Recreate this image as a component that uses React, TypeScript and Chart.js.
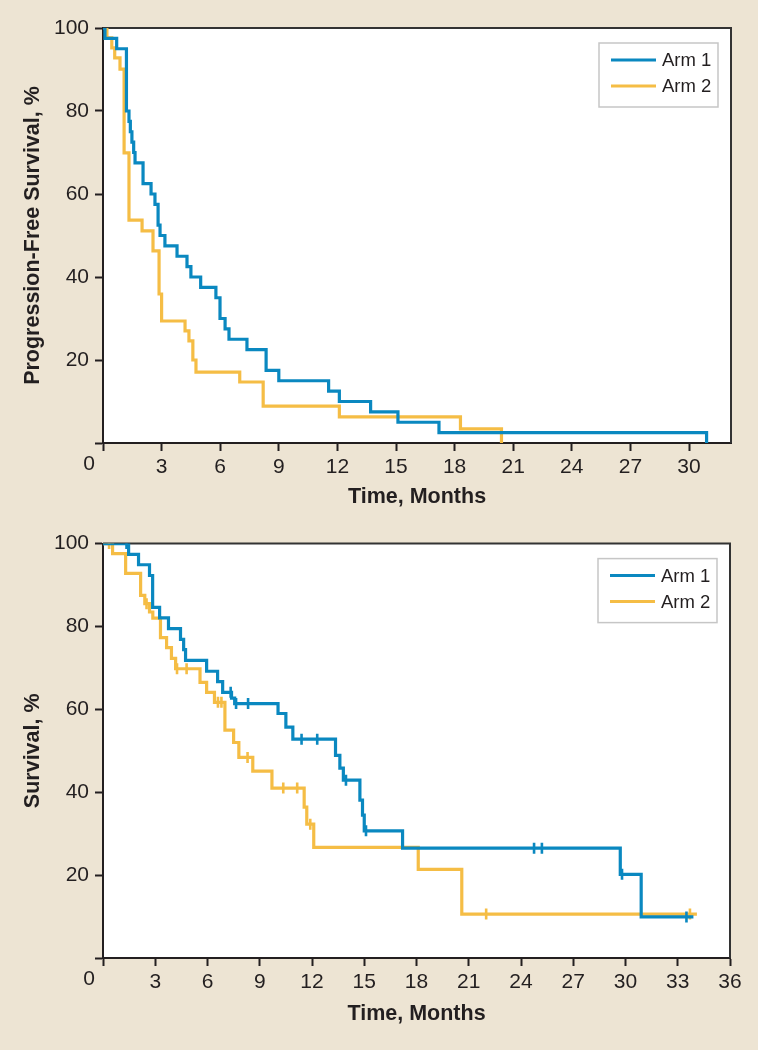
import React, { useEffect, useRef } from 'react';
import { Chart, registerables } from 'chart.js';

Chart.register(...registerables);

// ---------- data ----------
const seriesLabels = ['Arm 1', 'Arm 2'];

// Progression-free survival (top panel)
const pfsArm1Months = [0, 0.1, 0.7, 1.2, 1.33, 1.4, 1.48, 1.57, 1.64, 2.05, 2.46, 2.66, 2.82, 2.92, 3.17, 3.79, 4.3, 4.5, 5.0, 5.78, 5.99, 6.25, 6.45, 7.37, 8.35, 9.0, 11.55, 12.1, 13.7, 15.1, 17.2, 30.9];
const pfsArm1Pct = [100, 97.5, 95, 80, 77.5, 75, 72.5, 70, 67.5, 62.5, 60, 57.5, 52.5, 50, 47.5, 45, 42.5, 40, 37.5, 35, 30, 27.5, 25, 22.5, 17.5, 15, 12.5, 10, 7.5, 5, 2.5, 0];
const pfsArm2Months = [0, 0.2, 0.45, 0.6, 0.87, 1.08, 1.33, 2.0, 2.56, 2.87, 3.0, 4.2, 4.4, 4.6, 4.76, 7.0, 8.2, 12.1, 18.3, 20.4];
const pfsArm2Pct = [100, 97.6, 95.2, 92.8, 90.1, 69.9, 53.7, 51.1, 46.3, 35.9, 29.4, 27.0, 24.6, 20.0, 17.1, 14.7, 8.9, 6.3, 3.4, 0];

// Overall survival (bottom panel)
const osArm1Months = [0, 1.47, 2.04, 2.67, 2.85, 3.25, 3.76, 4.45, 4.63, 4.74, 5.95, 6.58, 6.87, 7.38, 7.56, 10.05, 10.5, 10.9, 13.35, 13.6, 13.8, 14.75, 14.9, 15.0, 17.2, 29.7, 30.9, 33.9];
const osArm1Pct = [100, 97.4, 94.9, 92.3, 84.6, 82.1, 79.5, 76.9, 74.4, 71.8, 69.2, 66.7, 64.1, 62.7, 61.4, 59.0, 55.7, 52.8, 48.9, 45.8, 42.9, 38.1, 34.5, 30.7, 26.5, 20.2, 9.9, 9.9];
const osArm1CensorMonths = [1.35, 7.33, 7.64, 8.33, 11.4, 12.3, 13.95, 15.1, 24.75, 25.2, 29.8, 33.5];
const osArm1CensorPct = [100, 64.1, 61.4, 61.4, 52.8, 52.8, 42.9, 30.7, 26.5, 26.5, 20.2, 9.9];

const osArm2Months = [0, 0.55, 1.3, 2.16, 2.4, 2.67, 2.86, 3.3, 3.65, 3.93, 4.17, 5.57, 5.95, 6.4, 7.0, 7.5, 7.8, 8.6, 9.7, 11.55, 11.7, 12.1, 18.1, 20.6, 34.1];
const osArm2Pct = [100, 97.6, 92.8, 87.5, 85.5, 83.5, 82, 77.3, 74.9, 72.3, 69.8, 66.5, 64.1, 61.7, 55, 52, 48.4, 45.1, 41, 36.4, 32.3, 26.7, 21.4, 10.6, 10.6];
const osArm2CensorMonths = [0.35, 2.5, 4.25, 4.8, 6.6, 6.8, 8.3, 10.35, 11.15, 11.9, 22.0, 33.7];
const osArm2CensorPct = [100, 85.5, 69.8, 69.8, 61.7, 61.7, 48.4, 41, 41, 32.3, 10.6, 10.6];

const pfsXTicks = [0, 3, 6, 9, 12, 15, 18, 21, 24, 27, 30];
const osXTicks = [0, 3, 6, 9, 12, 15, 18, 21, 24, 27, 30, 33, 36];
const yTicks = [0, 20, 40, 60, 80, 100];

// ---------- styles ----------
const FONT = '"Liberation Sans", Arial, Helvetica, sans-serif';
const BG = '#ede4d3';
const INK = '#231f20';
const BLUE = '#0a88c0';
const ORANGE = '#f5bd45';
const COLORS = [BLUE, ORANGE];

const zip = (xs: number[], ys: number[]) => xs.map((x, i) => ({ x, y: ys[i] }));

const framePlugin = {
  id: 'kmFrame',
  beforeDraw(chart: any) {
    const { ctx, chartArea: a } = chart;
    ctx.save();
    ctx.fillStyle = '#ffffff';
    ctx.fillRect(a.left, a.top, a.right - a.left, a.bottom - a.top);
    ctx.restore();
  },
  beforeDatasetsDraw(chart: any) {
    const { ctx, chartArea: a } = chart;
    ctx.save();
    ctx.strokeStyle = '#333333';
    ctx.lineWidth = 2;
    ctx.beginPath();
    ctx.moveTo(a.left, a.top);
    ctx.lineTo(a.right, a.top);
    ctx.lineTo(a.right, a.bottom);
    ctx.stroke();
    ctx.restore();
  },
  afterDraw(chart: any) {
    const { ctx, chartArea: a } = chart;
    ctx.save();
    ctx.fillStyle = INK;
    ctx.font = `21px ${FONT}`;
    ctx.textAlign = 'center';
    ctx.textBaseline = 'middle';
    ctx.fillText('0', a.left - 14, a.bottom + 21);
    ctx.restore();
  },
};

const legendPlugin = {
  id: 'kmLegend',
  afterDatasetsDraw(chart: any) {
    const { ctx, chartArea: a } = chart;
    const items = chart.data.datasets.filter((d: any) => seriesLabels.includes(d.label));
    const w = 119;
    const h = 64;
    const x0 = a.right - 13 - w;
    const y0 = a.top + 15;
    ctx.save();
    ctx.fillStyle = '#ffffff';
    ctx.fillRect(x0, y0, w, h);
    ctx.strokeStyle = '#c6c6c6';
    ctx.lineWidth = 1.5;
    ctx.strokeRect(x0, y0, w, h);
    items.forEach((d: any, i: number) => {
      const y = y0 + 17 + i * 26;
      ctx.strokeStyle = d.borderColor;
      ctx.lineWidth = 3;
      ctx.beginPath();
      ctx.moveTo(x0 + 12, y);
      ctx.lineTo(x0 + 57, y);
      ctx.stroke();
      ctx.fillStyle = INK;
      ctx.font = `18.5px ${FONT}`;
      ctx.textAlign = 'left';
      ctx.textBaseline = 'middle';
      ctx.fillText(d.label, x0 + 63, y + 1);
    });
    ctx.restore();
  },
};

type Panel = {
  curves: { months: number[]; pct: number[] }[];
  censors: { months: number[]; pct: number[] }[];
  xTicks: number[];
  xMax: number;
  yTitle: string;
  padTop: number;
  padRight: number;
  xAxisHeight: number;
  xTitleBottom: number;
};

function buildConfig(p: Panel): any {
  const datasets: any[] = [];
  seriesLabels.forEach((label, i) => {
    datasets.push({
      type: 'line',
      label,
      data: zip(p.curves[i].months, p.curves[i].pct),
      borderColor: COLORS[i],
      backgroundColor: COLORS[i],
      borderWidth: 3.2,
      stepped: true,
      pointRadius: 0,
      fill: false,
      borderCapStyle: 'butt',
      borderJoinStyle: 'miter',
    });
    if (p.censors[i].months.length) {
      datasets.push({
        type: 'scatter',
        label: label + ' censored',
        data: zip(p.censors[i].months, p.censors[i].pct),
        borderColor: COLORS[i],
        backgroundColor: COLORS[i],
        pointStyle: 'line',
        rotation: 90,
        pointRadius: 5.5,
        borderWidth: 2.6,
        showLine: false,
      });
    }
  });

  const tickFont = { family: FONT, size: 21 };
  const titleFont = { family: FONT, size: 21.5, weight: 'bold' as const };
  const grid = {
    display: true,
    drawOnChartArea: false,
    drawTicks: true,
    tickLength: 8,
    tickWidth: 2,
    tickColor: INK,
  };
  const border = { display: true, color: INK, width: 2 };

  return {
    type: 'line',
    data: { datasets },
    options: {
      animation: false,
      responsive: false,
      events: [],
      layout: { padding: { left: 0, top: p.padTop, right: p.padRight, bottom: 0 } },
      plugins: { legend: { display: false }, tooltip: { enabled: false } },
      scales: {
        x: {
          type: 'linear',
          min: 0,
          max: p.xMax,
          afterFit: (s: any) => { s.height = p.xAxisHeight; },
          afterBuildTicks: (s: any) => { s.ticks = p.xTicks.map((v) => ({ value: v })); },
          ticks: {
            font: tickFont,
            color: INK,
            padding: 3.5,
            maxRotation: 0,
            autoSkip: false,
            callback: (v: any) => (v === 0 ? '' : String(v)),
          },
          grid,
          border,
          title: {
            display: true,
            text: 'Time, Months',
            font: titleFont,
            color: INK,
            padding: { top: 0, bottom: p.xTitleBottom },
          },
        },
        y: {
          type: 'linear',
          min: 0,
          max: 100,
          afterFit: (s: any) => { s.width = 103; },
          afterBuildTicks: (s: any) => { s.ticks = yTicks.map((v) => ({ value: v })); },
          ticks: {
            font: tickFont,
            color: INK,
            padding: 6,
            callback: (v: any) => (v === 0 ? '' : String(v)),
          },
          grid,
          border,
          title: {
            display: true,
            text: p.yTitle,
            font: titleFont,
            color: INK,
            padding: { top: 20, bottom: 0 },
          },
        },
      },
    },
    plugins: [framePlugin, legendPlugin],
  };
}

function KMChart({ panel }: { panel: Panel }) {
  const ref = useRef<HTMLCanvasElement | null>(null);
  useEffect(() => {
    if (!ref.current) return;
    const chart = new Chart(ref.current, buildConfig(panel));
    return () => chart.destroy();
  }, [panel]);
  return <canvas ref={ref} width={758} height={525} style={{ display: 'block', width: 758, height: 525 }} />;
}

const pfsPanel: Panel = {
  curves: [
    { months: pfsArm1Months, pct: pfsArm1Pct },
    { months: pfsArm2Months, pct: pfsArm2Pct },
  ],
  censors: [
    { months: [], pct: [] },
    { months: [], pct: [] },
  ],
  xTicks: pfsXTicks,
  xMax: 32.15,
  yTitle: 'Progression-Free Survival, %',
  padTop: 28,
  padRight: 27,
  xAxisHeight: 82,
  xTitleBottom: 15,
};

const osPanel: Panel = {
  curves: [
    { months: osArm1Months, pct: osArm1Pct },
    { months: osArm2Months, pct: osArm2Pct },
  ],
  censors: [
    { months: osArm1CensorMonths, pct: osArm1CensorPct },
    { months: osArm2CensorMonths, pct: osArm2CensorPct },
  ],
  xTicks: osXTicks,
  xMax: 36,
  yTitle: 'Survival, %',
  padTop: 18,
  padRight: 28,
  xAxisHeight: 92,
  xTitleBottom: 23.5,
};

export default function App() {
  useEffect(() => {
    document.body.style.margin = '0';
    document.body.style.background = BG;
  }, []);
  return (
    <div style={{ width: 758, height: 1050, background: BG, overflow: 'hidden' }}>
      <KMChart panel={pfsPanel} />
      <KMChart panel={osPanel} />
    </div>
  );
}
